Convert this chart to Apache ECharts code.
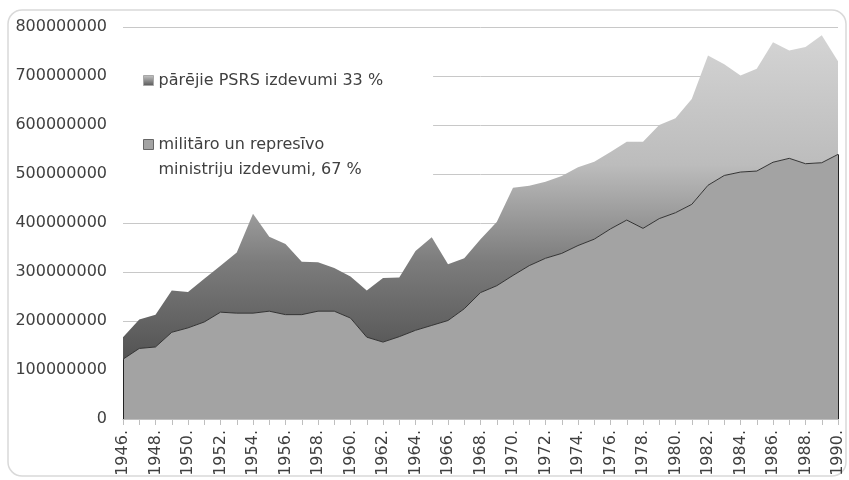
<!DOCTYPE html>
<html>
<head>
<meta charset="utf-8">
<script src="https://cdn.jsdelivr.net/npm/echarts@6/dist/echarts.min.js"></script>
<style>
  html, body { margin: 0; padding: 0; background: #fff; }
  #chart { width: 849px; height: 480px; }
</style>
</head>
<body>
<div id="chart"></div>
<script>
// years 1946 - 1990
const years = [];
for (let y = 1946; y <= 1990; y++) years.push(y + '.');

// values in millions
const military = [122, 144, 147, 177, 186, 198, 218, 216, 216, 220,
  213, 213, 220, 220, 206, 167, 157, 168, 181, 191,
  201, 225, 258, 272, 293, 313, 328, 338, 354, 367,
  388, 406, 389, 409, 421, 438, 477, 497, 504, 506,
  524, 532, 521, 523, 540];
const other = [45, 59, 66, 85, 73, 88, 95, 124, 203, 152,
  144, 108, 100, 88, 85, 95, 131, 121, 162, 180,
  115, 103, 109, 130, 179, 163, 156, 158, 160, 158,
  157, 160, 177, 191, 193, 215, 265, 227, 197, 209,
  245, 220, 238, 260, 190];

const nameOther = 'pārējie PSRS izdevumi 33 %';
const nameMil = 'militāro un represīvo ministriju izdevumi, 67 %';

const M = 1000000;
const font = 'DejaVu Sans';

const topGradient = new echarts.graphic.LinearGradient(0, 0, 0, 1, [
  { offset: 0, color: '#d4d4d4' },
  { offset: 0.4, color: '#bcbcbc' },
  { offset: 0.7, color: '#7c7c7c' },
  { offset: 1, color: '#535353' }
]);
const iconGradient = new echarts.graphic.LinearGradient(0, 0, 0, 1, [
  { offset: 0, color: '#c8c8c8' },
  { offset: 1, color: '#555555' }
]);

const chart = echarts.init(document.getElementById('chart'));
chart.setOption({
  animation: false,
  backgroundColor: '#fff',
  graphic: [{
    type: 'rect',
    shape: { x: 8, y: 10, width: 838, height: 466, r: 14 },
    style: { fill: 'none', stroke: '#d9d9d9', lineWidth: 1.5 },
    z: -1
  }],
  grid: { left: 123, right: 11, top: 27, bottom: 61, outerBoundsMode: 'none' },
  legend: {
    orient: 'vertical',
    left: 123,
    top: 62,
    padding: [6, 50, 6, 20],
    backgroundColor: '#fff',
    icon: 'rect',
    itemWidth: 10,
    itemHeight: 10,
    itemGap: 14,
    textStyle: { fontFamily: font, fontSize: 16, color: '#404040', lineHeight: 25 },
    formatter: function (n) {
      return n === nameMil ? '\nmilitāro un represīvo\nministriju izdevumi, 67 %' : n;
    },
    data: [
      { name: nameOther, itemStyle: { color: iconGradient, borderColor: '#a8a8a8', borderWidth: 1 } },
      { name: nameMil, itemStyle: { color: '#a3a3a3', borderColor: '#666', borderWidth: 1 } }
    ]
  },
  xAxis: {
    type: 'category',
    data: years,
    boundaryGap: false,
    axisLine: { lineStyle: { color: '#bfbfbf' } },
    axisTick: { interval: 0, length: 6, lineStyle: { color: '#bfbfbf' } },
    axisLabel: {
      interval: 1, rotate: 90, margin: 11, hideOverlap: false,
      fontFamily: font, fontSize: 16, color: '#404040'
    }
  },
  yAxis: {
    type: 'value',
    min: 0,
    max: 800 * M,
    interval: 100 * M,
    axisLine: { show: false },
    axisTick: { show: false },
    splitLine: { lineStyle: { color: '#c8c8c8' } },
    axisLabel: {
      margin: 16,
      fontFamily: font, fontSize: 16, color: '#404040',
      formatter: v => String(v)
    }
  },
  series: [
    {
      name: nameMil,
      type: 'line',
      stack: 'total',
      symbol: 'none',
      data: military.map(v => v * M),
      lineStyle: { color: '#333', width: 1 },
      itemStyle: { color: '#a3a3a3' },
      areaStyle: { color: '#a3a3a3', opacity: 1 },
      markLine: {
        silent: true,
        symbol: 'none',
        label: { show: false },
        lineStyle: { color: '#222', width: 1, type: 'solid' },
        data: [
          [{ coord: [years[0], 0] }, { coord: [years[0], military[0] * M] }],
          [{ coord: [years[years.length - 1], 0] }, { coord: [years[years.length - 1], military[military.length - 1] * M] }]
        ]
      }
    },
    {
      name: nameOther,
      type: 'line',
      stack: 'total',
      symbol: 'none',
      data: other.map(v => v * M),
      lineStyle: { width: 0 },
      itemStyle: { color: '#888' },
      areaStyle: { color: topGradient, opacity: 1 }
    }
  ]
});
</script>
</body>
</html>
